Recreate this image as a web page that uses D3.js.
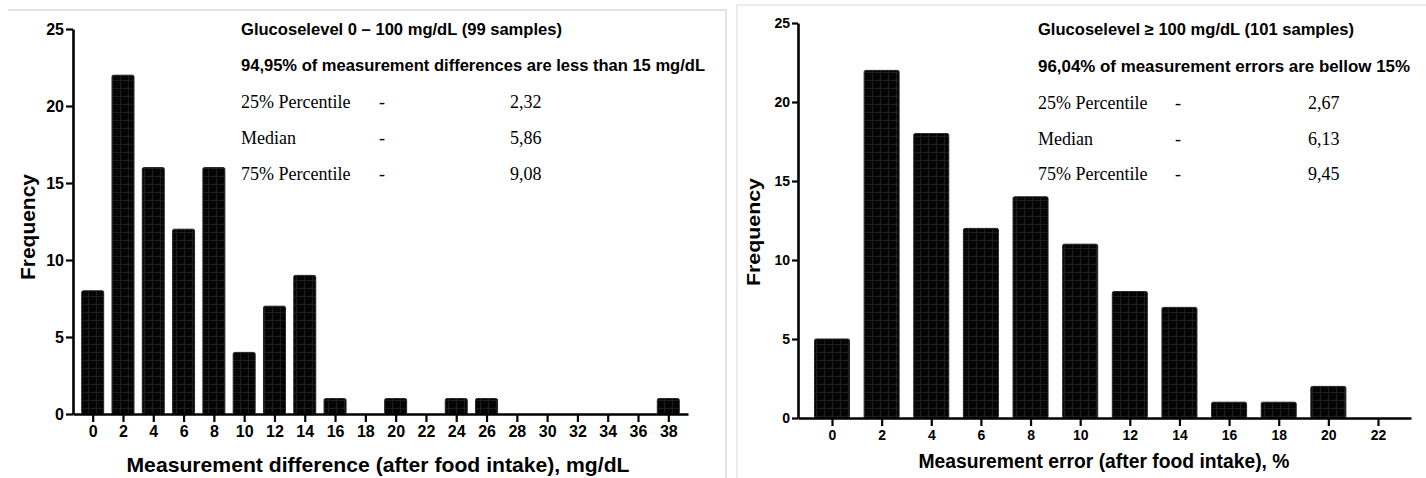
<!DOCTYPE html>
<html>
<head>
<meta charset="utf-8">
<script src="https://cdn.jsdelivr.net/npm/d3@7"></script>
<style>
  body { margin: 0; background: #fff; }
  svg { display: block; }
</style>
</head>
<body>
<div id="chart"></div>
<script>
// left histogram: glucose 0-100 mg/dL, bins of 2 mg/dL
var binsLow   = [0, 2, 4, 6, 8, 10, 12, 14, 16, 18, 20, 22, 24, 26, 28, 30, 32, 34, 36, 38];
var countsLow = [8, 22, 16, 12, 16, 4, 7, 9, 1, 0, 1, 0, 1, 1, 0, 0, 0, 0, 0, 1];

// right histogram: glucose >= 100 mg/dL, bins of 2 %
var binsHigh   = [0, 2, 4, 6, 8, 10, 12, 14, 16, 18, 20, 22];
var countsHigh = [5, 22, 18, 12, 14, 11, 8, 7, 1, 1, 2, 0];

var yTicks = [0, 5, 10, 15, 20, 25];

// annotation text
var statLabels = ['25% Percentile', 'Median', '75% Percentile'];
var statsLow   = ['2,32', '5,86', '9,08'];
var statsHigh  = ['2,67', '6,13', '9,45'];
var headLow    = ['Glucoselevel 0 \u2013 100 mg/dL (99 samples)', '94,95% of measurement differences are less than 15 mg/dL'];
var headHigh   = ['Glucoselevel \u2265 100 mg/dL (101 samples)', '96,04% of measurement errors are bellow 15%'];
var xTitleLow  = 'Measurement difference (after food intake), mg/dL';
var xTitleHigh = 'Measurement error (after food intake), %';

var W = 1426, H = 478;
var svg = d3.select('#chart').append('svg').attr('width', W).attr('height', H);
var defs = svg.append('defs');

// faint grid inside the black bars
function addPattern(id, step) {
    var p = defs.append('pattern').attr('id', id)
        .attr('patternUnits', 'userSpaceOnUse').attr('width', step).attr('height', step);
    p.append('rect').attr('width', step).attr('height', step).attr('fill', '#050505');
    p.append('path').attr('d', `M0 0.5H${step}M0.5 0V${step}`)
        .attr('stroke', '#333').attr('stroke-width', 0.5).attr('fill', 'none');
}
addPattern('gridL', 8);
addPattern('gridR', 8);

// panel frames (light grey)
svg.append('path').attr('d', 'M8,10H726V478').attr('fill', 'none').attr('stroke', '#dcdcdc').attr('stroke-width', 1.5);
svg.append('path').attr('d', 'M737,478V5H1426').attr('fill', 'none').attr('stroke', '#e6e6e6').attr('stroke-width', 1.5);

function drawPanel(c) {
    var g = svg.append('g');
    var x = d3.scaleLinear().domain(c.xDomain).range(c.xRange);
    var y = d3.scaleLinear().domain([0, 25]).range(c.yRange);
    var sans = "'Liberation Sans', Arial, Helvetica, sans-serif";

    // bars
    var data = c.bins.map((b, i) => ({bin: b, n: c.counts[i]})).filter(d => d.n > 0);
    g.selectAll('rect.bar').data(data).enter().append('rect')
        .attr('class', 'bar')
        .attr('x', d => x(d.bin - c.barW / 2))
        .attr('width', d => x(c.barW) - x(0))
        .attr('y', d => y(d.n))
        .attr('height', d => y(0) - y(d.n))
        .attr('rx', 1.5)
        .attr('fill', `url(#${c.pattern})`)
        .attr('stroke', '#222').attr('stroke-width', 1);

    // y axis
    var yAxis = g.append('g').attr('transform', `translate(${c.xRange[0]},0)`)
        .call(d3.axisLeft(y).tickValues(yTicks).tickSize(c.yTick).tickSizeOuter(0).tickPadding(2));
    // x axis
    var xAxis = g.append('g').attr('transform', `translate(0,${c.yRange[0]})`)
        .call(d3.axisBottom(x).tickValues(c.bins).tickSize(c.xTick).tickSizeOuter(0).tickPadding(c.xPad));
    [xAxis, yAxis].forEach(function(a) {
        a.attr('font-size', c.tickFont).attr('font-family', sans).attr('font-weight', 'bold');
        a.select('.domain').attr('stroke', '#000').attr('stroke-width', 2.6);
        a.selectAll('.tick line').attr('stroke', '#000').attr('stroke-width', 2.2);
        a.selectAll('.tick text').attr('fill', '#000');
    });

    // axis titles
    g.append('text').attr('x', c.xTitle.x).attr('y', c.xTitle.y)
        .attr('text-anchor', 'middle').attr('font-family', sans).attr('font-weight', 'bold')
        .attr('font-size', c.xTitle.size).attr('textLength', c.xTitle.len).attr('lengthAdjust', 'spacingAndGlyphs')
        .text(c.xTitle.text);
    g.append('text').attr('transform', `translate(${c.yTitle.x},${c.yTitle.y}) rotate(-90)`)
        .attr('text-anchor', 'middle').attr('font-family', sans).attr('font-weight', 'bold')
        .attr('font-size', c.yTitle.size).attr('textLength', c.yTitle.len).attr('lengthAdjust', 'spacingAndGlyphs')
        .text('Frequency');

    // header lines
    c.head.forEach(function(t, i) {
        g.append('text').attr('x', c.textX).attr('y', c.rows[i])
            .attr('font-family', sans).attr('font-weight', 'bold').attr('font-size', 16)
            .attr('textLength', c.headLen[i]).attr('lengthAdjust', 'spacingAndGlyphs')
            .text(t);
    });
    // percentile rows
    var serif = "'Liberation Serif', 'Times New Roman', serif";
    statLabels.forEach(function(t, i) {
        var yy = c.rows[i + 2];
        g.append('text').attr('x', c.textX).attr('y', yy).attr('font-family', serif).attr('font-size', 18).text(t);
        g.append('text').attr('x', c.dashX).attr('y', yy).attr('font-family', serif).attr('font-size', 18).text('-');
        g.append('text').attr('x', c.valX).attr('y', yy).attr('font-family', serif).attr('font-size', 18).text(c.stats[i]);
    });
}

drawPanel({
    bins: binsLow, counts: countsLow, stats: statsLow, head: headLow, pattern: 'gridL',
    xDomain: [-1.3, 39.3], xRange: [73, 688], yRange: [414, 29], barW: 1.45,
    yTick: 7, xTick: 8, xPad: 4, tickFont: 16,
    xTitle: {text: xTitleLow, x: 378, y: 472, size: 21, len: 503},
    yTitle: {x: 35, y: 227, size: 20, len: 106},
    textX: 241, dashX: 379, valX: 510, rows: [35, 71, 108, 144, 180], headLen: [321, 464]
});

drawPanel({
    bins: binsHigh, counts: countsHigh, stats: statsHigh, head: headHigh, pattern: 'gridR',
    xDomain: [-1.37, 23.33], xRange: [798, 1411], yRange: [418, 23], barW: 1.41,
    yTick: 6, xTick: 8, xPad: 4, tickFont: 14,
    xTitle: {text: xTitleHigh, x: 1104, y: 468, size: 20, len: 371},
    yTitle: {x: 760, y: 232, size: 19, len: 108},
    textX: 1038, dashX: 1175, valX: 1308, rows: [35, 72, 109, 145, 180], headLen: [316, 372]
});
</script>
</body>
</html>
